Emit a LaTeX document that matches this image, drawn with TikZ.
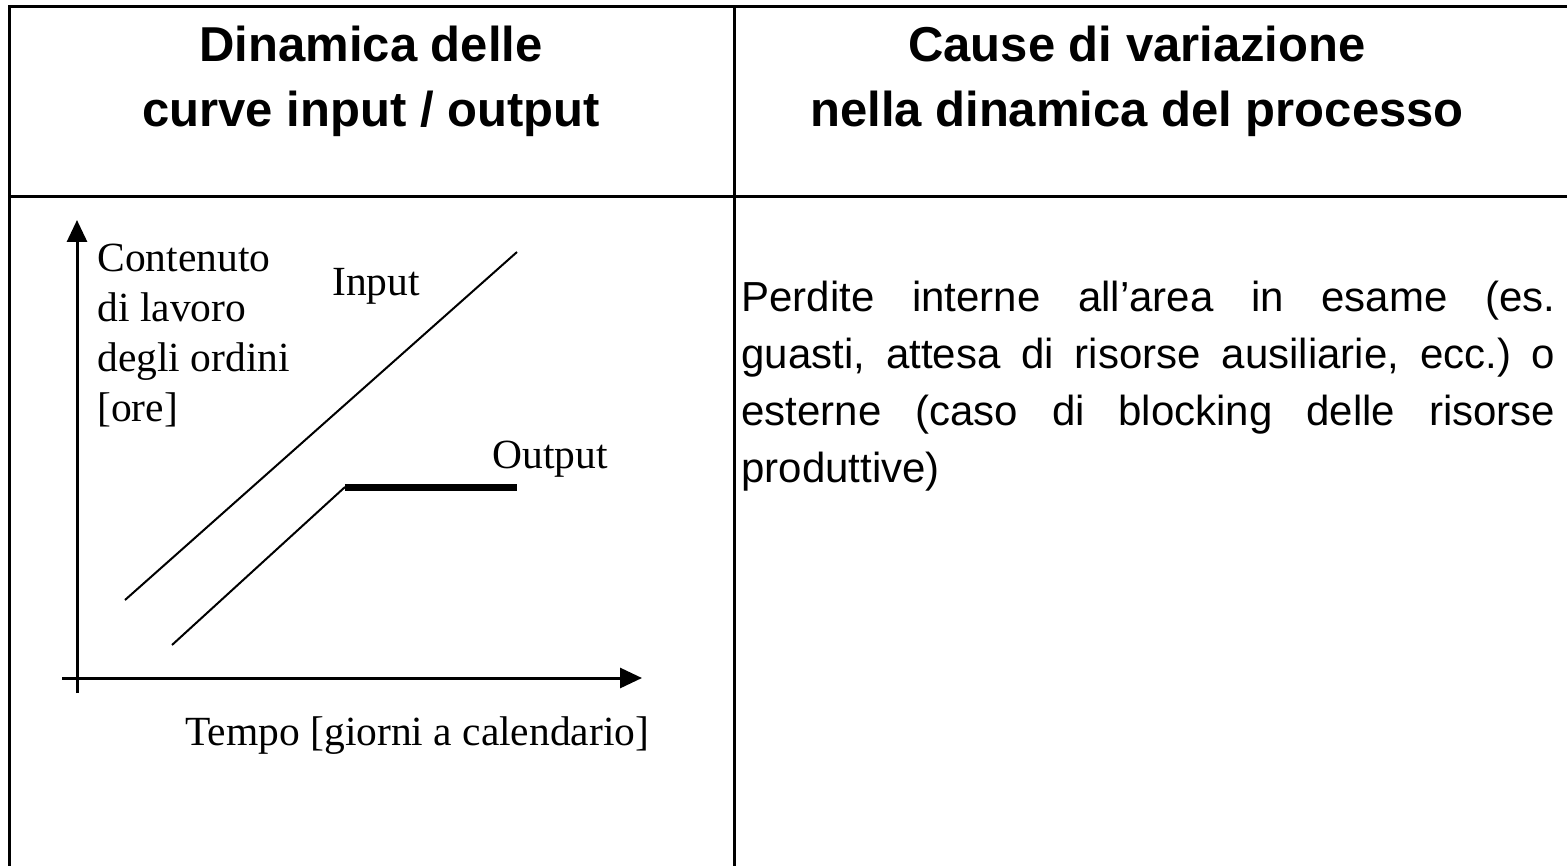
\documentclass[tikz,border=0pt]{standalone}
\usepackage{fontspec}
\setmainfont{Liberation Serif}
\newfontfamily\arialfont{Liberation Sans}
\usetikzlibrary{arrows.meta}
\frenchspacing

\tikzset{
	griglia/.style={line width=1.5pt},
	asse/.style={line width=1.5pt, -{Triangle[length=11pt,width=10pt]}},
	curva/.style={line width=1pt},
	titolo/.style={align=center, inner sep=0pt, anchor=base,
		font=\arialfont\bfseries\fontsize{24.5}{32.5}\selectfont},
	etichetta/.style={inner sep=0pt, anchor=base west,
		font=\fontsize{20.75}{25}\selectfont}
}

\begin{document}
\begin{tikzpicture}[x=0.5pt, y=-0.5pt]
		\useasboundingbox ( 0, 0 ) rectangle ( 1567, 866 );

		% tabella
		\draw [griglia] ( 9, 866 ) -- ( 9, 7 ) -- ( 1567, 7 );
		\draw [griglia] ( 9, 197 ) -- ( 1567, 197 );
		\draw [griglia] ( 734, 7 ) -- ( 734, 866 );

		% intestazioni (base = ultima riga)
		\node [titolo] (tsx) at ( 371, 127 ) {Dinamica delle\\curve input / output};
		\node [titolo] (tdx) at ( 1137, 127 ) {Cause di variazione\\nella dinamica del processo};

		% assi
		\coordinate (origY) at ( 77, 693 );
		\coordinate (fineY) at ( 77, 220 );
		\coordinate (origX) at ( 62, 678 );
		\coordinate (fineX) at ( 642, 678 );
		\draw [asse] (origY) -- (fineY);
		\draw [asse] (origX) -- (fineX);

		% curve input / output
		\coordinate (in0) at ( 125, 600 );
		\coordinate (in1) at ( 517, 252 );
		\coordinate (out0) at ( 172, 645 );
		\coordinate (out1) at ( 345, 487 );
		\coordinate (out2) at ( 517, 487 );
		\draw [curva] (in0) -- (in1);
		\draw [curva] (out0) -- (out1);
		\draw [line width=3.5pt] (out1) -- (out2);

		% etichette
		\node [etichetta, align=left] (ylab) at ( 97, 421 ) {Contenuto\\di lavoro\\degli ordini\\{}[ore]};
		\node [etichetta] (inlab) at ( 332, 295 ) {Input};
		\node [etichetta] (outlab) at ( 492, 468 ) {Output};
		\node [etichetta] (xlab) at ( 185, 745 ) {Tempo [giorni a calendario]};

		% testo cause
		\node [inner sep=0pt, anchor=base west, text width=407pt, align=justify,
			font=\arialfont\fontsize{21}{28.5}\selectfont] (cause) at ( 741, 311 )
			{\tolerance=10000 Perdite interne all’area in esame (es.\linebreak
			guasti, attesa di risorse ausiliarie, ecc.) o\linebreak
			esterne (caso di blocking delle risorse\linebreak
			produttive)};
	\end{tikzpicture}
\end{document}
